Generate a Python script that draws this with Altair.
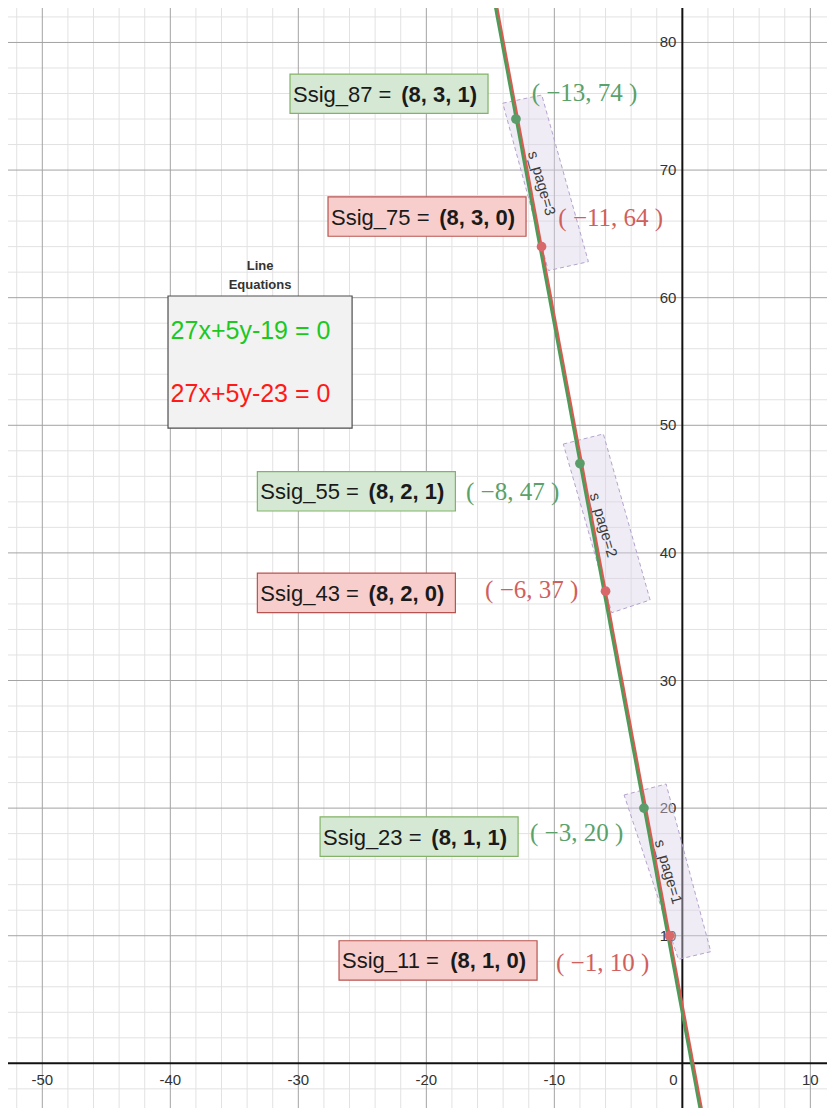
import altair as alt
import pandas as pd

# ---------------- data ----------------
# Line equations a*x + b*y + c = 0
eq_text = ["27x+5y-19 = 0", "27x+5y-23 = 0"]
eq_a = [27, 27]
eq_b = [5, 5]
eq_c = [-19, -23]
eq_series = ["green", "red"]

# Points on the lines
pt_x = [-13, -11, -8, -6, -3, -1]
pt_y = [74, 64, 47, 37, 20, 10]
pt_series = ["green", "red", "green", "red", "green", "red"]
pt_text = ["( −13, 74 )", "( −11, 64 )", "( −8, 47 )", "( −6, 37 )", "( −3, 20 )", "( −1, 10 )"]
pt_text_x = [-11.77, -9.69, -16.90, -15.41, -11.90, -9.87]
pt_text_y = [76.02, 66.22, 44.80, 37.09, 18.05, 7.86]

# Ssig boxes
box_name = ["Ssig_87 = ", "Ssig_75 = ", "Ssig_55 = ", "Ssig_43 = ", "Ssig_23 = ", "Ssig_11 = "]
box_value = ["(8, 3, 1)", "(8, 3, 0)", "(8, 2, 1)", "(8, 2, 0)", "(8, 1, 1)", "(8, 1, 0)"]
box_series = ["green", "red", "green", "red", "green", "red"]
box_left = [-30.65, -27.68, -33.20, -33.20, -28.30, -26.82]
box_mid = [75.98, 66.36, 44.83, 36.87, 17.77, 8.06]

# s_page regions (corner polygons)
page_text = ["s_page=3", "s_page=2", "s_page=1"]
page_cx = [[-14.03, -10.98, -7.34, -10.47],
           [-9.30, -6.17, -2.52, -5.52],
           [-4.55, -1.27, 2.22, -0.31]]
page_cy = [[75.24, 75.88, 62.82, 62.12],
           [48.53, 49.32, 36.31, 35.31],
           [21.03, 21.89, 8.75, 8.15]]
page_text_x = [-10.98, -6.17, -1.09]
page_text_y = [68.97, 42.19, 15.02]

# legend box for the equations
eqbox_x = [-40.18, -25.80]
eqbox_y = [49.78, 60.13]
eqbox_title = ["Line", "Equations"]
eqbox_title_y = [62.48, 60.99]
eqbox_text_y = [57.39, 52.45]

# axes
x_ticks = [-50, -40, -30, -20, -10, 0, 10]
y_ticks = [10, 20, 30, 40, 50, 60, 70, 80]

# ---------------- styling ----------------
XD = [-52.68, 11.30]
YD = [-3.50, 82.70]
W, H = 819, 1100

line_col = {"green": "#4c9c58", "red": "#dc5a52"}
pt_col = {"green": "#5b9c6b", "red": "#d9686b"}
lbl_col = {"green": "#5aa16a", "red": "#d0605c"}
box_fill = {"green": "#d5e8d4", "red": "#f8cecc"}
box_stroke = {"green": "#82b366", "red": "#b85450"}
eq_col = {"green": "#1ec81e", "red": "#ff1a1a"}

xs = alt.Scale(domain=XD, nice=False, zero=False)
ys = alt.Scale(domain=YD, nice=False, zero=False)


def X(f="x"):
    return alt.X(f"{f}:Q", scale=xs, axis=None)


def Y(f="y"):
    return alt.Y(f"{f}:Q", scale=ys, axis=None)


# grid
minor_x = [v for v in range(-52, 12, 2) if v % 10 != 0]
major_x = [v for v in range(-50, 20, 10) if v != 0]
minor_y = [v for v in range(-2, 84, 2) if v % 10 != 0]
major_y = [v for v in range(10, 90, 10)]

gminx = alt.Chart(pd.DataFrame({"x": minor_x})).mark_rule(color="#e2e2e2", strokeWidth=1).encode(x=X())
gminy = alt.Chart(pd.DataFrame({"y": minor_y})).mark_rule(color="#e2e2e2", strokeWidth=1).encode(y=Y())
gmajx = alt.Chart(pd.DataFrame({"x": major_x})).mark_rule(color="#a3a3a3", strokeWidth=1).encode(x=X())
gmajy = alt.Chart(pd.DataFrame({"y": major_y})).mark_rule(color="#a3a3a3", strokeWidth=1).encode(y=Y())
axx = alt.Chart(pd.DataFrame({"y": [0]})).mark_rule(color="#111111", strokeWidth=2).encode(y=Y())
axy = alt.Chart(pd.DataFrame({"x": [0]})).mark_rule(color="#111111", strokeWidth=2).encode(x=X())

xlab_df = pd.DataFrame({"x": [t for t in x_ticks if t != 0], "y": 0,
                        "t": [str(t) for t in x_ticks if t != 0]})
xlab = alt.Chart(xlab_df).mark_text(fontSize=15, font="Liberation Sans", color="#333333",
                                    dy=17, align="center", baseline="middle").encode(x=X(), y=Y(), text="t:N")
zlab = alt.Chart(pd.DataFrame({"x": [0], "y": [0], "t": ["0"]})).mark_text(
    fontSize=15, font="Liberation Sans", color="#333333", dx=-9, dy=17,
    align="center", baseline="middle").encode(x=X(), y=Y(), text="t:N")
ylab_df = pd.DataFrame({"x": 0, "y": y_ticks, "t": [str(t) for t in y_ticks]})
ylab = alt.Chart(ylab_df).mark_text(fontSize=15, font="Liberation Sans", color="#333333",
                                    dx=-6, align="right", baseline="middle").encode(x=X(), y=Y(), text="t:N")

# s_page polygons
rows = []
for i, name in enumerate(page_text):
    cx = page_cx[i] + [page_cx[i][0]]
    cy = page_cy[i] + [page_cy[i][0]]
    for k, (a, b) in enumerate(zip(cx, cy)):
        rows.append({"page": name, "o": k, "x": a, "y": b})
poly_df = pd.DataFrame(rows)
poly = alt.Chart(poly_df).mark_line(fill="#dcd2e8", fillOpacity=0.42, stroke="#b4a3cc",
                                    strokeWidth=1, strokeDash=[4, 3], clip=True).encode(
    x=X(), y=Y(), detail="page:N", order="o:Q")
page_lbl = alt.Chart(pd.DataFrame({"x": page_text_x, "y": page_text_y, "t": page_text})).mark_text(
    fontSize=15, font="Liberation Sans", color="#3a3a3a", angle=74,
    align="center", baseline="middle").encode(x=X(), y=Y(), text="t:N")

# lines
lrows = []
for i, s in enumerate(eq_series):
    for yy in [YD[1] + 2, YD[0] - 2]:
        lrows.append({"s": s, "x": (-eq_c[i] - eq_b[i] * yy) / eq_a[i], "y": yy,
                      "col": line_col[s], "o": yy})
line_df = pd.DataFrame(lrows)
line_red = alt.Chart(line_df[line_df.s == "red"]).mark_line(strokeWidth=2.5, clip=True).encode(
    x=X(), y=Y(), color=alt.Color("col:N", scale=None), order="o:Q")
line_green = alt.Chart(line_df[line_df.s == "green"]).mark_line(strokeWidth=2.5, clip=True).encode(
    x=X(), y=Y(), color=alt.Color("col:N", scale=None), order="o:Q")

# points
pt_df = pd.DataFrame({"x": pt_x, "y": pt_y, "s": pt_series,
                      "col": [pt_col[s] for s in pt_series]})
pts = alt.Chart(pt_df).mark_circle(size=95, opacity=1).encode(
    x=X(), y=Y(), color=alt.Color("col:N", scale=None))

ptl_df = pd.DataFrame({"x": pt_text_x, "y": pt_text_y, "t": pt_text,
                       "col": [lbl_col[s] for s in pt_series]})
ptl = alt.Chart(ptl_df).mark_text(fontSize=25, font="Liberation Serif", align="left",
                                  baseline="middle").encode(
    x=X(), y=Y(), text="t:N", color=alt.Color("col:N", scale=None))

# Ssig boxes
BW, BH = 15.47, 3.09
bx_df = pd.DataFrame({
    "x": box_left, "x2": [v + BW for v in box_left],
    "y": [v - BH / 2 for v in box_mid], "y2": [v + BH / 2 for v in box_mid],
    "ym": box_mid, "n": box_name, "v": box_value,
    "f": [box_fill[s] for s in box_series], "st": [box_stroke[s] for s in box_series]})
bx = alt.Chart(bx_df).mark_rect(strokeWidth=1.2).encode(
    x=X(), x2="x2", y=Y(), y2="y2",
    fill=alt.Fill("f:N", scale=None), stroke=alt.Stroke("st:N", scale=None))
bx_n = alt.Chart(bx_df).mark_text(fontSize=22, font="Liberation Sans", color="#1a1a1a",
                                  align="left", baseline="middle", dx=3, dy=1).encode(
    x=X(), y=Y("ym"), text="n:N")
bx_v = alt.Chart(bx_df).mark_text(fontSize=22, font="Liberation Sans", fontWeight="bold",
                                  color="#1a1a1a", align="right", baseline="middle", dx=-11, dy=1).encode(
    x=X("x2"), y=Y("ym"), text="v:N")

# equations box
eqb = alt.Chart(pd.DataFrame({"x": [eqbox_x[0]], "x2": [eqbox_x[1]],
                              "y": [eqbox_y[0]], "y2": [eqbox_y[1]]})).mark_rect(
    fill="#f2f2f2", stroke="#4d4d4d", strokeWidth=1.2).encode(x=X(), x2="x2", y=Y(), y2="y2")
eqt = alt.Chart(pd.DataFrame({"x": (eqbox_x[0] + eqbox_x[1]) / 2, "y": eqbox_title_y,
                              "t": eqbox_title})).mark_text(
    fontSize=13, font="Liberation Sans", fontWeight="bold", color="#333333",
    align="center", baseline="middle").encode(x=X(), y=Y(), text="t:N")
eqs = alt.Chart(pd.DataFrame({"x": eqbox_x[0] + 0.2, "y": eqbox_text_y, "t": eq_text,
                              "col": [eq_col[s] for s in eq_series]})).mark_text(
    fontSize=25, font="Liberation Sans", align="left", baseline="middle").encode(
    x=X(), y=Y(), text="t:N", color=alt.Color("col:N", scale=None))

chart = alt.layer(
    gminx, gminy, gmajx, gmajy, axx, axy, xlab, zlab, ylab,
    poly, page_lbl, line_red, line_green, pts, ptl,
    bx, bx_n, bx_v, eqb, eqt, eqs
).properties(
    width=W, height=H, padding=0, autosize=alt.AutoSizeParams(type="none")
).configure_view(stroke=None)

chart.save("out.html", embed_options={"renderer": "svg", "actions": False})
